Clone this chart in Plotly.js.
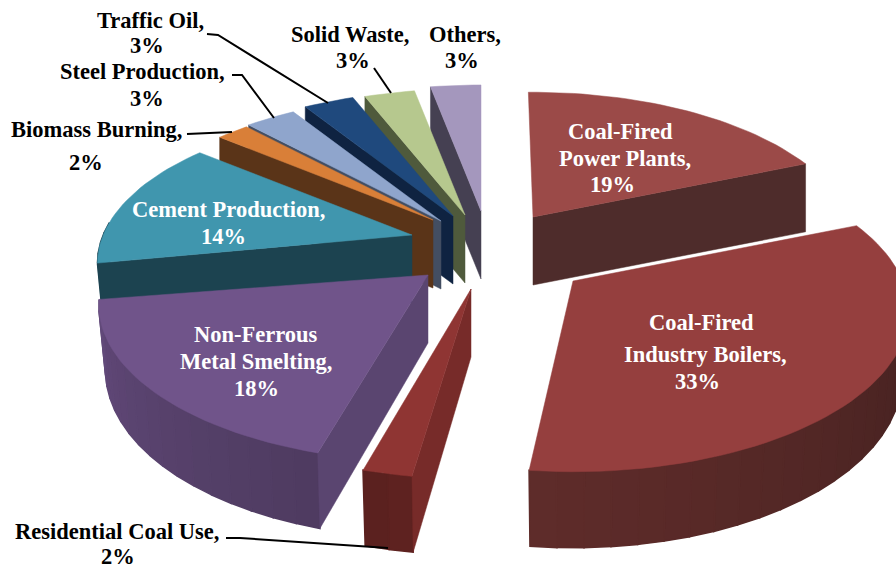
<!DOCTYPE html>
<html>
<head>
<meta charset="utf-8">
<script src="https://cdn.plot.ly/plotly-3.0.1.min.js"></script>
<style>html,body{margin:0;padding:0;background:#fff}#chart{width:896px;height:569px}</style>
</head>
<body>
<div id="chart"></div>
<script>
// Emission shares by source, clockwise from twelve o'clock.
const categories = ['Coal-Fired Power Plants','Coal-Fired Industry Boilers','Residential Coal Use','Non-Ferrous Metal Smelting','Cement Production','Biomass Burning','Steel Production','Traffic Oil','Solid Waste','Others'];
const shares = [19, 33, 2, 18, 14, 2, 3, 3, 3, 3];
const labelLines = [['Coal-Fired','Power Plants,'],['Coal-Fired','Industry Boilers,'],['Residential Coal Use,'],['Non-Ferrous','Metal Smelting,'],['Cement Production,'],['Biomass Burning,'],['Steel Production,'],['Traffic Oil,'],['Solid Waste,'],['Others,']];

// Exploded position of each wedge's tip, with a small rotation and radius factor per wedge.
const tips = [[533,217],[573,281],[471,289],[428,275],[412,235],[433,220],[441,221],[453,216],[465,215],[481,211]];
const turns = [-1,-1,1.2,1.8,0,0,0,0,0,0];
const reach = [0.99,1.03,1.025,1.01,0.965,0.97,1,1,1,1];

// Colours: top face, cut face, rim at start and end of the rim sweep.
const topColors = ['#9B4A48','#953F3E','#8F3533','#70548A','#4096AE','#D97F38','#8FA5CC','#1F497D','#B6C88E','#A497BD'];
const cutColors = ['#4E2C2B',null,'#772B29','#5A4570','#1C4350','#5A3418','#434E62','#0F2341','#4F5A3C','#454052'];
const rimFrom = ['#4E2C2B','#41201F','#5F2321','#4E3B60','#1C4350','#5A3418','#434E62','#0F2341','#4F5A3C','#454052'];
const rimTo = ['#4E2C2B','#5F2C2A','#5A201E','#62497A','#1C4350','#5A3418','#434E62','#0F2341','#4F5A3C','#454052'];
// The power-plant wedge shows its far cut; the others show the near one.
const cutAtEnd = [true,false,false,false,false,false,false,false,false,false];

// Painter's order, back to front.
const paintOrder = [0,9,8,7,6,5,4,3,2,1];

// Text placement: one [x, y] per label line, the last one for the percentage.
const labelSpots = [[[620,131],[625,158],[612,184]],[[701,322],[705,354],[697,381]],[[117,531],[118,556]],[[256,334],[256,361],[256,388]],[[228,209],[223,236]],[[96,129],[86,162]],[[142,71],[147,98]],[[150,20],[147,45]],[[350,34],[353,60]],[[465,34],[462,60]]];
const labelOnSlice = [true,true,false,true,true,false,false,false,false,false];
const leaders = [[[226,538],[240,538],[388,548]],[[187,134],[232,132]],[[232,75],[242,75],[274,118]],[[207,34],[218,35],[328,103]],[[374,68],[391,93]]];

// Perspective ground projection of the pie.
const RX = 320, RY = 150, PERSP = 0.19, DEPTH = 68;
const rad = d => d * Math.PI / 180;
function rimPoint(deg, scale) {
  const u = Math.sin(rad(deg)), v = -Math.cos(rad(deg)), w = 1 / (1 - PERSP * v);
  const dx = RX * u * w * scale, dy = RY * v * w * scale;
  // The lower ring sits slightly inward and its height varies round the near side.
  return {dx, dy, bx: v > 0 ? dx * 0.98 : dx, by: dy + (v > 0 ? 62 + 14 * v : DEPTH)};
}
function mix(a, b, t) {
  const ch = (s, i) => parseInt(s.substr(1 + 2 * i, 2), 16);
  let out = '#';
  for (let i = 0; i < 3; i++) out += Math.round(ch(a, i) + (ch(b, i) - ch(a, i)) * t).toString(16).padStart(2, '0');
  return out;
}
function poly(pts, color, edge) {
  return {type: 'scatter', mode: 'lines', x: pts.map(p => p[0]).concat(pts[0][0]), y: pts.map(p => p[1]).concat(pts[0][1]),
    fill: 'toself', fillcolor: color, line: {color: color, width: edge}, hoverinfo: 'skip', showlegend: false};
}

// Wedge sweeps follow directly from the shares.
let running = 0;
const sweeps = shares.map(s => { const a = running; running += s * 3.6; return [a, running]; });

const traces = [];
paintOrder.forEach(i => {
  const [tx, ty] = tips[i];
  const a0 = sweeps[i][0] + turns[i], a1 = sweeps[i][1] + turns[i];
  // Front rim wall, split into strips so the shade can run along it.
  const lo = Math.max(a0, 85), hi = Math.min(a1, 275);
  if (hi > lo) {
    const strips = Math.max(2, Math.ceil((hi - lo) / 4));
    for (let k = 0; k < strips; k++) {
      const p = rimPoint(lo + (hi - lo) * k / strips, reach[i]), q = rimPoint(lo + (hi - lo) * (k + 1) / strips, reach[i]);
      traces.push(poly([[tx + p.dx, ty + p.dy], [tx + q.dx, ty + q.dy], [tx + q.bx, ty + q.by], [tx + p.bx, ty + p.by]],
        mix(rimFrom[i], rimTo[i], (k + 0.5) / strips), 1.6));
    }
  }
  // Cut face along one radius.
  if (cutColors[i]) {
    const e = rimPoint(cutAtEnd[i] ? a1 : a0, reach[i]);
    traces.push(poly([[tx, ty], [tx + e.dx, ty + e.dy], [tx + e.bx, ty + e.by], [tx, ty + DEPTH]], cutColors[i], 0.5));
  }
  // Top face.
  const pts = [[tx, ty]];
  const n = Math.max(4, Math.ceil((a1 - a0) / 2));
  for (let k = 0; k <= n; k++) {
    const p = rimPoint(a0 + (a1 - a0) * k / n, reach[i]);
    pts.push([tx + p.dx, ty + p.dy]);
  }
  traces.push(poly(pts, topColors[i], 0.5));
});

// Leader lines from the outside labels to their wedges.
leaders.forEach(l => traces.push({type: 'scatter', mode: 'lines', x: l.map(p => p[0]), y: l.map(p => p[1]),
  line: {color: '#000', width: 2}, hoverinfo: 'skip', showlegend: false}));

const annotations = [];
categories.forEach((c, i) => {
  const lines = labelLines[i].concat(shares[i] + '%');
  lines.forEach((text, k) => annotations.push({
    x: labelSpots[i][k][0], y: labelSpots[i][k][1], xref: 'x', yref: 'y', text: text, showarrow: false,
    xanchor: 'center', yanchor: 'middle',
    font: {family: '"Liberation Serif", serif', size: 22.5, color: labelOnSlice[i] ? '#FFFFFF' : '#000000', weight: 700}
  }));
});

Plotly.newPlot('chart', traces, {
  width: 896, height: 569, margin: {l: 0, r: 0, t: 0, b: 0},
  paper_bgcolor: '#fff', plot_bgcolor: '#fff', showlegend: false,
  xaxis: {range: [0, 896], visible: false, fixedrange: true},
  yaxis: {range: [569, 0], visible: false, fixedrange: true},
  annotations: annotations
}, {displayModeBar: false, staticPlot: true});
</script>
</body>
</html>
